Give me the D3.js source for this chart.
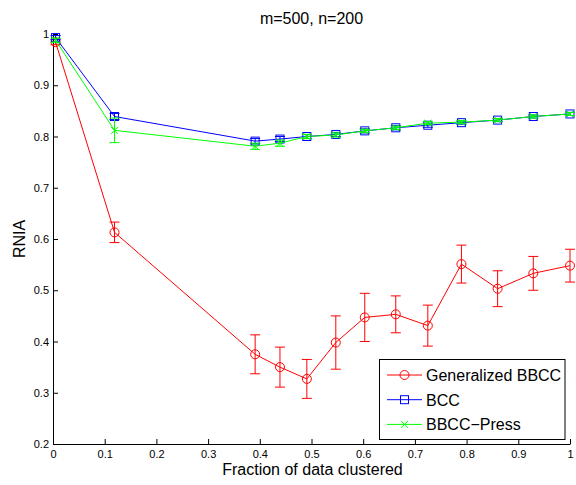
<!DOCTYPE html>
<html>
<head>
<meta charset="utf-8">
<script src="https://cdn.jsdelivr.net/npm/d3@7"></script>
<style>
  html, body { margin: 0; padding: 0; background: #fff; }
  svg { display: block; font-family: "Liberation Sans", Arial, Helvetica, sans-serif; }
</style>
</head>
<body>
<svg id="chart" width="576" height="485"></svg>
<script>
// Fraction of data clustered (x positions shared by all series)
const fractions = [0.005, 0.119, 0.391, 0.439, 0.491, 0.547, 0.603, 0.663, 0.725, 0.790, 0.860, 0.929, 1.0];

// RNIA means and error half-widths per method
const genBBCC     = [0.984, 0.613, 0.375, 0.350, 0.327, 0.398, 0.447, 0.453, 0.431, 0.551, 0.503, 0.533, 0.548];
const genBBCCErr  = [0.005, 0.020, 0.038, 0.039, 0.038, 0.052, 0.047, 0.036, 0.040, 0.037, 0.035, 0.033, 0.032];
const bcc         = [0.993, 0.839, 0.791, 0.795, 0.800, 0.804, 0.811, 0.817, 0.822, 0.827, 0.832, 0.839, 0.844];
const bccErr      = [0.004, 0.006, 0.005, 0.005, 0.004, 0.004, 0.004, 0.004, 0.004, 0.003, 0.003, 0.003, 0.003];
const bbccPress   = [0.988, 0.812, 0.781, 0.787, 0.800, 0.803, 0.811, 0.817, 0.826, 0.828, 0.832, 0.839, 0.844];
const bbccPressErr= [0.004, 0.024, 0.006, 0.006, 0.004, 0.004, 0.003, 0.003, 0.003, 0.003, 0.003, 0.003, 0.003];

const seriesNames  = ["Generalized BBCC", "BCC", "BBCC\u2212Press"];
const seriesColors = ["#ff0000", "#0000ff", "#00ff00"];
const seriesMarks  = ["circle", "square", "cross"];

const xTicks = [0, 0.1, 0.2, 0.3, 0.4, 0.5, 0.6, 0.7, 0.8, 0.9, 1];
const yTicks = [0.2, 0.3, 0.4, 0.5, 0.6, 0.7, 0.8, 0.9, 1];

const titleText = "m=500, n=200";
const xLabel = "Fraction of data clustered";
const yLabel = "RNIA";

const svg = d3.select("#chart");
const plotLeft = 53, plotRight = 570, plotTop = 34, plotBottom = 444;

const x = d3.scaleLinear().domain([0, 1]).range([plotLeft, plotRight]);
const y = d3.scaleLinear().domain([0.2, 1]).range([plotBottom, plotTop]);

// axes: MATLAB style, ticks pointing inward, no box
const xAxis = d3.axisBottom(x).tickValues(xTicks).tickFormat(d3.format("~g"))
  .tickSizeInner(-5).tickSizeOuter(0).tickPadding(6.5);
const yAxis = d3.axisLeft(y).tickValues(yTicks).tickFormat(d3.format("~g"))
  .tickSizeInner(-5).tickSizeOuter(0).tickPadding(4);

const gx = svg.append("g").attr("transform", `translate(0,${plotBottom})`).call(xAxis);
const gy = svg.append("g").attr("transform", `translate(${plotLeft},0)`).call(yAxis);
[gx, gy].forEach(g => {
  g.selectAll("text").attr("font-size", 11).attr("fill", "#000")
    .attr("font-family", "Liberation Sans, Arial, sans-serif");
  g.selectAll("line, path").attr("stroke", "#000");
});

// series data
const series = [
  { vals: genBBCC, err: genBBCCErr },
  { vals: bcc, err: bccErr },
  { vals: bbccPress, err: bbccPressErr }
].map((s, i) => ({
  name: seriesNames[i], color: seriesColors[i], mark: seriesMarks[i],
  pts: fractions.map((f, j) => ({ x: f, y: s.vals[j], e: s.err[j] }))
}));

function drawMarker(g, type, cx, cy, color) {
  if (type === "circle") {
    g.append("circle").attr("cx", cx).attr("cy", cy).attr("r", 4.5)
      .attr("fill", "none").attr("stroke", color).attr("stroke-width", 1);
  } else if (type === "square") {
    g.append("rect").attr("x", cx - 4).attr("y", cy - 4).attr("width", 8).attr("height", 8)
      .attr("fill", "none").attr("stroke", color).attr("stroke-width", 1);
  } else {
    const s = 3.5;
    g.append("path").attr("d", `M${cx - s},${cy - s}L${cx + s},${cy + s}M${cx - s},${cy + s}L${cx + s},${cy - s}`)
      .attr("fill", "none").attr("stroke", color).attr("stroke-width", 1);
  }
}

const line = d3.line().x(d => x(d.x)).y(d => y(d.y));
const plot = svg.append("g");

series.forEach(s => {
  const g = plot.append("g");
  g.append("path").datum(s.pts).attr("d", line)
    .attr("fill", "none").attr("stroke", s.color).attr("stroke-width", 1);
  // error bars
  s.pts.forEach(p => {
    const cx = x(p.x), y1 = y(p.y + p.e), y2 = y(p.y - p.e), cap = 5;
    g.append("path")
      .attr("d", `M${cx},${y1}V${y2}M${cx - cap},${y1}H${cx + cap}M${cx - cap},${y2}H${cx + cap}`)
      .attr("fill", "none").attr("stroke", s.color).attr("stroke-width", 1);
  });
  s.pts.forEach(p => drawMarker(g, s.mark, x(p.x), y(p.y), s.color));
});

// title and axis labels
svg.append("text").attr("x", (plotLeft + plotRight) / 2).attr("y", 24).attr("text-anchor", "middle")
  .attr("font-size", 16).attr("fill", "#000").text(titleText);
svg.append("text").attr("x", (plotLeft + plotRight) / 2 + 1).attr("y", 475).attr("text-anchor", "middle")
  .attr("font-size", 16).attr("fill", "#000").text(xLabel);
svg.append("text").attr("transform", `translate(25,${(plotTop + plotBottom) / 2}) rotate(-90)`)
  .attr("text-anchor", "middle").attr("font-size", 16).attr("fill", "#000").text(yLabel);

// legend
const lg = svg.append("g");
lg.append("rect").attr("x", 379.5).attr("y", 359.5).attr("width", 185.5).attr("height", 80)
  .attr("fill", "#fff").attr("stroke", "#000").attr("stroke-width", 1);
series.forEach((s, i) => {
  const ly = 375 + i * 24.7;
  lg.append("line").attr("x1", 387).attr("x2", 422).attr("y1", ly).attr("y2", ly)
    .attr("stroke", s.color).attr("stroke-width", 1);
  drawMarker(lg, s.mark, 404.5, ly, s.color);
  lg.append("text").attr("x", 426).attr("y", ly + 5.8).attr("font-size", 16)
    .attr("fill", "#000").text(s.name);
});
</script>
</body>
</html>
